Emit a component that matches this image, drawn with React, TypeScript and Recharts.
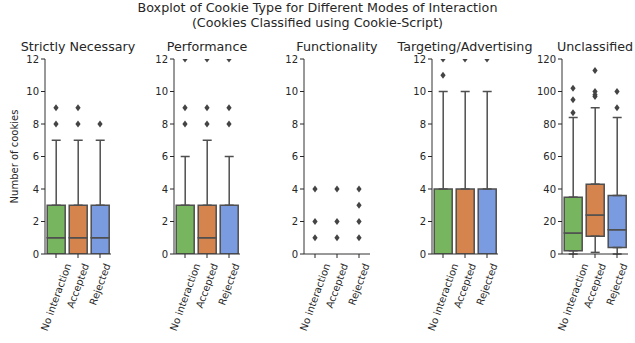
import { ComposedChart, Bar, Cell, ErrorBar, Scatter, XAxis, YAxis } from 'recharts';

const categories = ['No interaction', 'Accepted', 'Rejected'];
const boxColors = ['#77b55f', '#d5844e', '#7b9be0'];

// each row: [low whisker, q1, median, q3, high whisker]
const strictlyStats = [[0, 0, 1, 3, 7], [0, 0, 1, 3, 7], [0, 0, 1, 3, 7]];
const strictlyOutliers = [[8, 9], [8, 9], [8]];

const performanceStats = [[0, 0, 0, 3, 6], [0, 0, 1, 3, 7], [0, 0, 0, 3, 6]];
const performanceOutliers = [[8, 9, 12], [8, 9, 12], [8, 9, 12]];

const functionalityStats = [[0, 0, 0, 0, 0], [0, 0, 0, 0, 0], [0, 0, 0, 0, 0]];
const functionalityOutliers = [[1, 2, 4], [1, 2, 4], [1, 2, 3, 4]];

const targetingStats = [[0, 0, 0, 4, 10], [0, 0, 0, 4, 10], [0, 0, 0, 4, 10]];
const targetingOutliers = [[11, 12], [12], [12]];

const unclassifiedStats = [[0, 2, 13, 35, 84], [1, 11, 24, 43, 90], [0, 4, 15, 36, 84]];
const unclassifiedOutliers = [[87, 95, 102], [97, 98, 100, 113], [90, 100]];

const smallTicks = [0, 2, 4, 6, 8, 10, 12];
const bigTicks = [0, 20, 40, 60, 80, 100, 120];

const panels = [
  { title: 'Strictly Necessary', stats: strictlyStats, outliers: strictlyOutliers, ticks: smallTicks, left: 45 },
  { title: 'Performance', stats: performanceStats, outliers: performanceOutliers, ticks: smallTicks, left: 174 },
  { title: 'Functionality', stats: functionalityStats, outliers: functionalityOutliers, ticks: smallTicks, left: 304 },
  { title: 'Targeting/Advertising', stats: targetingStats, outliers: targetingOutliers, ticks: smallTicks, left: 432 },
  { title: 'Unclassified', stats: unclassifiedStats, outliers: unclassifiedOutliers, ticks: bigTicks, left: 562 },
];

const LINE = '#4f4f4f';
const TEXT = '#262626';
const FONT = '"DejaVu Sans", sans-serif';
const PLOT_TOP = 59;
const PLOT_H = 195;
const PLOT_W = 66;
const Y_W = 30;
const X_H = 85;
const M_TOP = 5;

let ctx: CanvasRenderingContext2D | null = null;
const measure = (s: string) => {
  if (!ctx) ctx = document.createElement('canvas').getContext('2d');
  if (!ctx) return s.length * 6;
  ctx.font = '10px "DejaVu Sans"';
  return ctx.measureText(s).width;
};

const SlantTick = (props: any) => {
  const { x, y, payload } = props;
  const w = measure(payload.value);
  const a = (70 * Math.PI) / 180;
  const h = w * Math.sin(a) + 11 * Math.cos(a);
  const cy = y + 2 + h / 2;
  return (
    <text
      x={x}
      y={cy}
      transform={`rotate(-70 ${x} ${cy})`}
      textAnchor="middle"
      dominantBaseline="central"
      fontSize={10}
      fill={TEXT}
      fontFamily={FONT}
    >
      {payload.value}
    </text>
  );
};

const Diamond = (props: any) => {
  const { cx, cy } = props;
  if (cx == null || cy == null) return null;
  return (
    <polygon
      points={`${cx},${cy - 3.5} ${cx + 2.6},${cy} ${cx},${cy + 3.5} ${cx - 2.6},${cy}`}
      fill="#444"
    />
  );
};

const BoxPanel = ({ panel }: { panel: (typeof panels)[number] }) => {
  const rows = categories.map((name, i) => {
    const [lo, q1, med, q3, hi] = panel.stats[i];
    return {
      name,
      base: q1,
      lower: med - q1,
      upper: q3 - med,
      errLow: [q1 - lo, 0],
      errHigh: [0, hi - q3],
    };
  });
  const fliers = categories.flatMap((name, i) => panel.outliers[i].map((value) => ({ name, value })));
  const hasBox = panel.stats.some((s) => s[4] > s[0]);
  const top = panel.ticks[panel.ticks.length - 1];

  return (
    <div style={{ position: 'absolute', left: panel.left - Y_W, top: PLOT_TOP - M_TOP }}>
      <ComposedChart
        width={Y_W + PLOT_W + 2}
        height={M_TOP + PLOT_H + X_H}
        data={rows}
        margin={{ top: M_TOP, right: 2, bottom: 0, left: 0 }}
        barCategoryGap="10%"
      >
        <XAxis
          dataKey="name"
          type="category"
          allowDuplicatedCategory={false}
          interval={0}
          height={X_H}
          tick={<SlantTick />}
          tickSize={4}
          tickLine={{ stroke: TEXT }}
          axisLine={{ stroke: '#333' }}
        />
        <XAxis xAxisId="top" orientation="top" height={0} tick={false} tickLine={false} axisLine={{ stroke: '#333' }} />
        <YAxis
          width={Y_W}
          type="number"
          domain={[0, top]}
          ticks={panel.ticks}
          interval={0}
          allowDataOverflow
          tickSize={4}
          tick={{ fontSize: 10, fill: TEXT, fontFamily: FONT }}
          tickLine={{ stroke: TEXT }}
          axisLine={{ stroke: '#333' }}
        />
        <YAxis yAxisId="right" orientation="right" width={0} tick={false} tickLine={false} axisLine={{ stroke: '#333' }} />
        <Bar dataKey="base" stackId="box" fill="none" isAnimationActive={false}>
          {hasBox && <ErrorBar dataKey="errLow" width={4.5} stroke={LINE} strokeWidth={1.5} direction="y" />}
        </Bar>
        <Bar dataKey="lower" stackId="box" stroke={LINE} strokeWidth={1.5} isAnimationActive={false}>
          {rows.map((r, i) => (
            <Cell key={r.name} fill={boxColors[i]} />
          ))}
        </Bar>
        <Bar dataKey="upper" stackId="box" stroke={LINE} strokeWidth={1.5} isAnimationActive={false}>
          {rows.map((r, i) => (
            <Cell key={r.name} fill={boxColors[i]} />
          ))}
          {hasBox && <ErrorBar dataKey="errHigh" width={4.5} stroke={LINE} strokeWidth={1.5} direction="y" />}
        </Bar>
        <Scatter data={fliers} dataKey="value" shape={<Diamond />} isAnimationActive={false} />
      </ComposedChart>
    </div>
  );
};

export default function App() {
  return (
    <div
      style={{
        position: 'absolute',
        left: 0,
        top: 0,
        width: 635,
        height: 343,
        background: '#fff',
        fontFamily: FONT,
        color: TEXT,
      }}
    >
      <div style={{ position: 'absolute', left: 0, width: 635, top: 0, textAlign: 'center', fontSize: 12.7, lineHeight: '15px' }}>
        Boxplot of Cookie Type for Different Modes of Interaction
        <br />
        (Cookies Classified using Cookie-Script)
      </div>
      {panels.map((p) => (
        <div
          key={p.title}
          style={{
            position: 'absolute',
            left: p.left + PLOT_W / 2 - 80,
            width: 160,
            top: 39,
            textAlign: 'center',
            fontSize: 12.7,
            whiteSpace: 'nowrap',
          }}
        >
          {p.title}
        </div>
      ))}
      <svg style={{ position: 'absolute', left: 0, top: 0 }} width={30} height={343}>
        <text
          x={14}
          y={PLOT_TOP + PLOT_H / 2}
          transform={`rotate(-90 14 ${PLOT_TOP + PLOT_H / 2})`}
          textAnchor="middle"
          dominantBaseline="central"
          fontSize={10}
          fill={TEXT}
          fontFamily={FONT}
        >
          Number of cookies
        </text>
      </svg>
      {panels.map((p) => (
        <BoxPanel key={p.title} panel={p} />
      ))}
    </div>
  );
}
